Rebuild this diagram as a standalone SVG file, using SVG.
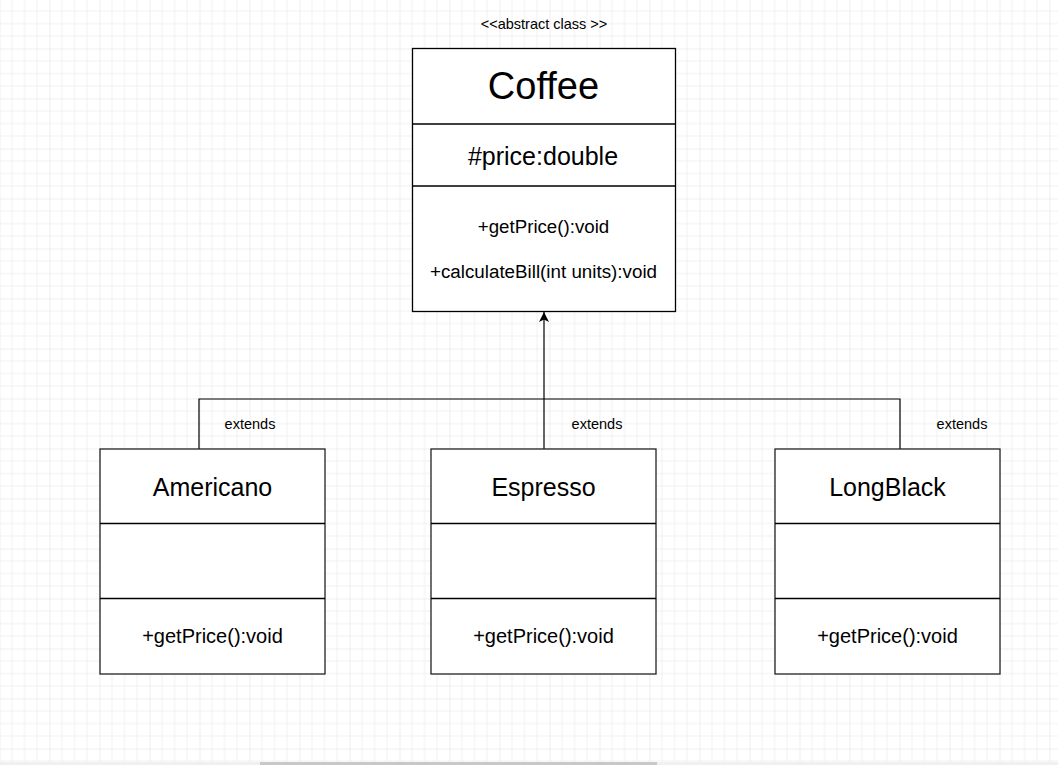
<svg xmlns="http://www.w3.org/2000/svg" width="1058" height="765" viewBox="0 0 1058 765">
<defs>
<pattern id="grid" patternUnits="userSpaceOnUse" x="-0.5" y="-1.5" width="50" height="50">
<path d="M12.5 0V50M25 0V50M37.5 0V50M0 12.5H50M0 25H50M0 37.5H50" stroke="#f0f0f0" stroke-width="1" fill="none"/>
<path d="M0 0V50M0 0H50" stroke="#e0e0e0" stroke-width="1" fill="none"/>
</pattern>
<marker id="arr" viewBox="0 0 10 10" refX="10" refY="5" markerWidth="10" markerHeight="10" markerUnits="userSpaceOnUse" orient="auto">
<path d="M0 0L10 5L0 10L2.5 5Z" fill="#000"/>
</marker>
<style>
.box{fill:#fff;stroke:#000;stroke-width:1.3}
.sub{fill:#fff;stroke:#222;stroke-width:1.3}
.ln{stroke:#000;stroke-width:1.3;fill:none}
.t{font-family:"Liberation Sans",Arial,sans-serif;fill:#000;text-anchor:middle;dominant-baseline:central}
.conn{stroke:#000;stroke-width:1.2;fill:none}
</style>
</defs>
<rect width="1058" height="765" fill="#fff"/>
<rect width="1058" height="762" fill="url(#grid)"/>
<rect x="0" y="762" width="1058" height="3" fill="#f0f0f0"/>
<rect x="260" y="762" width="397" height="3" fill="#c8c8c8"/>

<text class="t" x="544" y="24" font-size="14.5">&lt;&lt;abstract class &gt;&gt;</text>

<g id="connectors">
<path class="conn" d="M199 449V399H900V449"/>
<path class="conn" d="M544 449V312" marker-end="url(#arr)"/>
<text class="t" x="250" y="424" font-size="14.5">extends</text>
<text class="t" x="597" y="424" font-size="14.5">extends</text>
<text class="t" x="962" y="424" font-size="14.5">extends</text>
</g>

<g id="coffee">
<rect class="box" x="412.5" y="48.5" width="263" height="263"/>
<path class="ln" d="M412.5 124H675.5M412.5 186H675.5"/>
<text class="t" x="543.5" y="86" font-size="38">Coffee</text>
<text class="t" x="543" y="156" font-size="25">#price:double</text>
<text class="t" x="543.5" y="226" font-size="18.7">+getPrice():void</text>
<text class="t" x="543.5" y="271" font-size="18.8">+calculateBill(int units):void</text>
</g>

<g id="americano">
<rect class="sub" x="100" y="449" width="225" height="225"/>
<path class="ln" d="M100 523.5H325M100 598.5H325" stroke="#222"/>
<text class="t" x="212.5" y="487" font-size="25">Americano</text>
<text class="t" x="212.5" y="636" font-size="20">+getPrice():void</text>
</g>

<g id="espresso">
<rect class="sub" x="431" y="449" width="225" height="225"/>
<path class="ln" d="M431 523.5H656M431 598.5H656" stroke="#222"/>
<text class="t" x="543.5" y="487" font-size="25">Espresso</text>
<text class="t" x="543.5" y="636" font-size="20">+getPrice():void</text>
</g>

<g id="longblack">
<rect class="sub" x="775" y="449" width="225" height="225"/>
<path class="ln" d="M775 523.5H1000M775 598.5H1000" stroke="#222"/>
<text class="t" x="887.5" y="487" font-size="25">LongBlack</text>
<text class="t" x="887.5" y="636" font-size="20">+getPrice():void</text>
</g>
</svg>
